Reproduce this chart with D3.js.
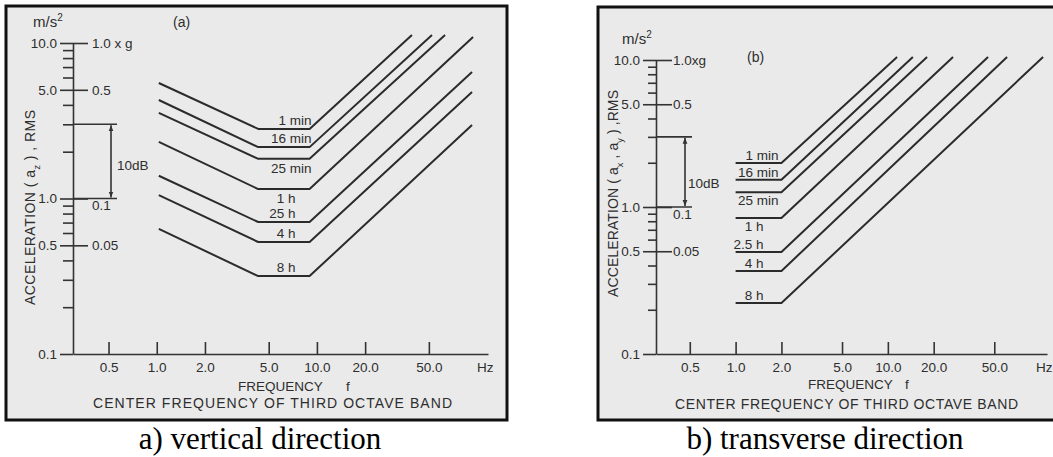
<!DOCTYPE html>
<html lang="en">
<head>
<meta charset="UTF-8">
<title>Exposure limit curves</title>
<script src="https://d3js.org/d3.v7.min.js"></script>
<style>
  body { margin: 0; background: #fff; }
  svg { display: block; font-family: 'Liberation Sans', Arial, sans-serif; }
  .panel-bg { fill: #eaeaea; stroke: #111; stroke-width: 3; }
  .curve { fill: none; stroke: #2b2b2b; stroke-width: 2; stroke-linejoin: round; }
  .axis path, .axis line, .rule { stroke: #333; stroke-width: 1.6; fill: none; }
  .axis text, .lbl { fill: #2e2e2e; font-size: 13.5px; font-family: 'Liberation Sans', Arial, sans-serif; }
  .title { fill: #2e2e2e; font-size: 14px; }
  .caption { font-family: 'Liberation Serif', 'Times New Roman', serif; font-size: 31px; fill: #000; }
</style>
</head>
<body>
<svg id="chart" width="1053" height="457"></svg>
<script>
// exposure time labels
const namesA = ["1 min", "16 min", "25 min", "1 h", "25 h", "4 h", "8 h"];
const namesB = ["1 min", "16 min", "25 min", "1 h", "2.5 h", "4 h", "8 h"];

// (a) vertical direction: [frequency Hz, acceleration m/s2]
const verticalCurves = [
  [[1.03, 5.53], [4.3, 2.80], [9.0, 2.80], [39.2, 11.26]],
  [[1.03, 4.30], [4.3, 2.14], [9.0, 2.14], [52.3, 11.26]],
  [[1.03, 3.55], [4.3, 1.80], [9.0, 1.80], [63.1, 11.26]],
  [[1.03, 2.31], [4.3, 1.15], [9.0, 1.15], [94.4, 10.93]],
  [[1.03, 1.40], [4.3, 0.706], [9.0, 0.706], [93.0, 6.51]],
  [[1.03, 1.05], [4.3, 0.525], [9.0, 0.525], [93.0, 4.84]],
  [[1.03, 0.637], [4.3, 0.317], [9.0, 0.317], [93.0, 2.97]]
];

// (b) transverse direction
const transverseCurves = [
  [[1.0, 1.99], [2.0, 1.99], [11.5, 10.48]],
  [[1.0, 1.53], [2.0, 1.53], [14.6, 10.48]],
  [[1.0, 1.26], [2.0, 1.26], [18.1, 10.48]],
  [[1.0, 0.842], [2.0, 0.842], [26.8, 10.48]],
  [[1.0, 0.494], [2.0, 0.494], [45.5, 10.48]],
  [[1.0, 0.367], [2.0, 0.367], [60.7, 10.48]],
  [[1.0, 0.222], [2.0, 0.222], [104.6, 10.48]]
];

const freqTicks = [0.5, 1, 2, 5, 10, 20, 50];
const freqLabels = ["0.5", "1.0", "2.0", "5.0", "10.0", "20.0", "50.0"];
const accMajor = [10, 5, 1, 0.5, 0.1];
const accMajorLabels = ["10.0", "5.0", "1.0", "0.5", "0.1"];
const accMinor = [9, 8, 7, 6, 4, 3, 2, 0.9, 0.8, 0.7, 0.6, 0.4, 0.3, 0.2];
const gTicks = [10, 5, 1, 0.5];
const gLabelsA = ["1.0 x g", "0.5", "0.1", "0.05"];
const gLabelsB = ["1.0xg", "0.5", "0.1", "0.05"];
const dbRange = [3, 1];   // 10 dB marker, m/s2
const freqDomain = [0.3, 117];
const freqDomainB = [0.3, 111];

const svg = d3.select("#chart");

const defs = svg.append("defs");
defs.append("marker")
    .attr("id", "arrow")
    .attr("viewBox", "0 0 10 10")
    .attr("refX", 10).attr("refY", 5)
    .attr("markerWidth", 6).attr("markerHeight", 7)
    .attr("markerUnits", "userSpaceOnUse")
    .attr("orient", "auto-start-reverse")
  .append("path")
    .attr("d", "M0,1L10,5L0,9Z")
    .attr("fill", "#333");

const panels = [
  {
    box: [6, 6, 501, 414], xDomain: freqDomain, xRange: [73, 488], yRange: [354, 43],
    curves: verticalCurves, names: namesA, gLabels: gLabelsA, gTick: 15, gPad: 4,
    majTick: 13, minTick: 10, dbLen: 44, dbArrow: 38, dbText: [117, 170],
    unit: [33, 27], tag: [173, 27, "(a)"],
    yTitle: [35, 305, 195], sub: ["z"],
    freq: [238, 391, 346], center: [93, 408, 359],
    minDx: 2, hDx: -14, above: -4, below: 14,
    caption: [260, "a) vertical direction"]
  },
  {
    box: [598, 7, 470, 413], xDomain: freqDomainB, xRange: [656, 1047], yRange: [354, 60],
    curves: transverseCurves, names: namesB, gLabels: gLabelsB, gTick: 16, gPad: 1,
    majTick: 13, minTick: 8, dbLen: 36, dbArrow: 29, dbText: [688, 188],
    unit: [622, 44], tag: [747, 62, "(b)"],
    yTitle: [618, 297, 207], sub: ["x", "y"],
    freq: [808, 389, 905], center: [675, 409, 343],
    minDx: -3, hDx: -18, above: -3, below: 13,
    caption: [825, "b) transverse direction"]
  }
];

panels.forEach(p => {
  const g = svg.append("g");
  g.append("rect").attr("class", "panel-bg")
    .attr("x", p.box[0]).attr("y", p.box[1])
    .attr("width", p.box[2]).attr("height", p.box[3]);

  const x = d3.scaleLog().domain(p.xDomain).range(p.xRange);
  const y = d3.scaleLog().domain([0.1, 10]).range(p.yRange);
  const x0 = p.xRange[0];

  // frequency axis, ticks pointing up
  g.append("g").attr("class", "axis")
    .attr("transform", `translate(0,${p.yRange[0]})`)
    .call(d3.axisBottom(x).tickValues(freqTicks)
      .tickFormat((d, i) => freqLabels[i])
      .tickSizeInner(-12).tickSizeOuter(0).tickPadding(8));

  // acceleration axis, m/s2
  g.append("g").attr("class", "axis")
    .attr("transform", `translate(${x0},0)`)
    .call(d3.axisLeft(y).tickValues(accMajor)
      .tickFormat((d, i) => accMajorLabels[i])
      .tickSize(p.majTick).tickSizeOuter(0).tickPadding(3));

  g.append("g").attr("class", "axis")
    .attr("transform", `translate(${x0},0)`)
    .call(d3.axisLeft(y).tickValues(accMinor).tickFormat("").tickSize(p.minTick))
    .call(a => a.select(".domain").remove());

  // g units on the right side of the axis
  const gAx = g.append("g").attr("class", "axis")
    .attr("transform", `translate(${x0},0)`)
    .call(d3.axisRight(y).tickValues(gTicks)
      .tickFormat((d, i) => p.gLabels[i])
      .tickSize(p.gTick).tickPadding(p.gPad))
    .call(a => a.select(".domain").remove());
  gAx.selectAll(".tick").filter(d => d === 1).select("text").attr("dy", "0.85em");

  // 10 dB marker
  dbRange.forEach(v => {
    g.append("line").attr("class", "rule")
      .attr("x1", x0).attr("x2", x0 + p.dbLen)
      .attr("y1", y(v)).attr("y2", y(v));
  });
  g.append("line").attr("class", "rule")
    .attr("x1", x0 + p.dbArrow).attr("x2", x0 + p.dbArrow)
    .attr("y1", y(dbRange[0]) + 1).attr("y2", y(dbRange[1]) - 1)
    .attr("stroke-width", 1.2)
    .attr("marker-start", "url(#arrow)").attr("marker-end", "url(#arrow)");
  g.append("text").attr("class", "lbl")
    .attr("x", p.dbText[0]).attr("y", p.dbText[1]).text("10dB");

  // curves
  const line = d3.line().x(d => x(d[0])).y(d => y(d[1]));
  g.selectAll("path.curve").data(p.curves).join("path")
    .attr("class", "curve").attr("d", line);

  const below = ["25 min", "1 h"];
  g.selectAll("text.name").data(p.curves).join("text")
    .attr("class", "lbl name")
    .attr("text-anchor", "end")
    .attr("x", (c, i) => {
      const k = c[c.length - 2];
      return x(k[0]) + (p.names[i].includes("min") ? p.minDx : p.hDx);
    })
    .attr("y", (c, i) => {
      const k = c[c.length - 2];
      return y(k[1]) + (below.includes(p.names[i]) ? p.below : p.above);
    })
    .text((c, i) => p.names[i]);

  // texts
  g.append("text").attr("class", "lbl")
    .attr("x", p.xRange[1] - 11).attr("y", p.yRange[0] + 18).text("Hz");
  const u = g.append("text").attr("class", "lbl")
    .attr("x", p.unit[0]).attr("y", p.unit[1]).attr("font-size", "15px").style("font-size", "15px");
  u.append("tspan").text("m/s");
  u.append("tspan").attr("dy", -6).style("font-size", "10px").text("2");
  g.append("text").attr("class", "title")
    .attr("x", p.tag[0]).attr("y", p.tag[1]).text(p.tag[2]);
  g.append("text").attr("class", "lbl")
    .attr("x", p.freq[0]).attr("y", p.freq[1]).text("FREQUENCY");
  g.append("text").attr("class", "lbl")
    .attr("x", p.freq[2]).attr("y", p.freq[1]).text("f");
  g.append("text").attr("class", "title")
    .attr("x", p.center[0]).attr("y", p.center[1])
    .attr("textLength", p.center[2]).attr("lengthAdjust", "spacing")
    .text("CENTER FREQUENCY OF THIRD OCTAVE BAND");

  const yt = g.append("text").attr("class", "title")
    .attr("transform", `translate(${p.yTitle[0]},${p.yTitle[1]}) rotate(-90)`)
    .attr("textLength", p.yTitle[2]).attr("lengthAdjust", "spacing");
  yt.append("tspan").text("ACCELERATION ( a");
  yt.append("tspan").attr("baseline-shift", "sub").attr("font-size", "9px").text(p.sub[0]);
  if (p.sub.length > 1) {
    yt.append("tspan").text(" , a");
    yt.append("tspan").attr("baseline-shift", "sub").attr("font-size", "9px").text(p.sub[1]);
  }
  yt.append("tspan").text(p.sub.length > 1 ? " ) ,RMS" : " ) , RMS");

  svg.append("text").attr("class", "caption")
    .attr("x", p.caption[0]).attr("y", 449)
    .attr("text-anchor", "middle").text(p.caption[1]);
});
</script>
</body>
</html>
